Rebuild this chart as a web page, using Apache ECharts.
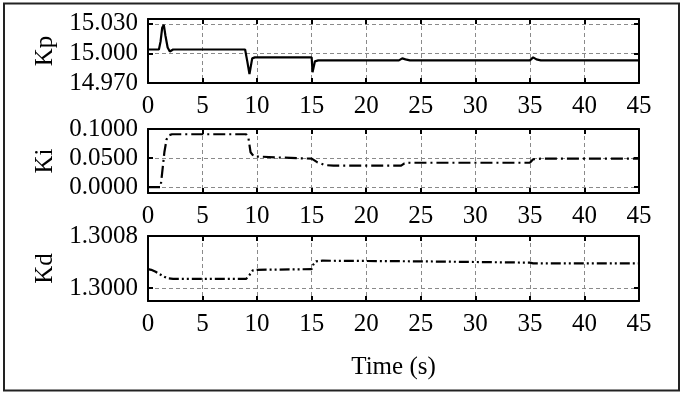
<!DOCTYPE html>
<html>
<head>
<meta charset="utf-8">
<script src="https://cdn.jsdelivr.net/npm/echarts@6/dist/echarts.min.js"></script>
<style>
html,body{margin:0;padding:0;background:#fff;}
#chart{width:684px;height:397px;}
</style>
</head>
<body>
<div id="chart"></div>
<script>
// ---- data ----
const xTicks = [0, 5, 10, 15, 20, 25, 30, 35, 40, 45];

const kpTime = [0, 1.0, 1.15, 1.3, 1.45, 1.6, 1.8, 2.0, 2.3, 8.9, 9.1, 9.3, 9.4, 9.55, 9.8, 15.0, 15.08, 15.15, 15.3, 15.6, 23.0, 23.3, 23.6, 24.0, 35.0, 35.3, 35.6, 36.0, 45];
const kpValues = [15.004, 15.004, 15.012, 15.026, 15.029, 15.018, 15.006, 15.002, 15.004, 15.004, 14.992, 14.979, 14.981, 14.995, 14.996, 14.996, 14.981, 14.983, 14.992, 14.993, 14.993, 14.995, 14.994, 14.993, 14.993, 14.996, 14.994, 14.993, 14.993];
const kpTicks = [14.970, 15.000, 15.030];

const kiTime = [0, 1.15, 1.3, 1.5, 1.7, 1.9, 2.2, 9.0, 9.2, 9.4, 9.7, 12, 15.0, 15.5, 16.2, 17, 23.2, 23.5, 24, 35.0, 35.3, 36, 45];
const kiValues = [0, 0, 0.025, 0.06, 0.082, 0.089, 0.091, 0.091, 0.085, 0.06, 0.053, 0.051, 0.049, 0.043, 0.038, 0.037, 0.037, 0.041, 0.042, 0.042, 0.048, 0.049, 0.049];
const kiTicks = [0.0, 0.05, 0.1];

const kdTime = [0, 0.3, 0.7, 1.0, 1.4, 1.8, 2.3, 9.0, 9.3, 9.6, 10, 15.0, 15.15, 15.4, 16, 25, 30, 35, 35.3, 45];
const kdValues = [1.30029, 1.30028, 1.30025, 1.30022, 1.30018, 1.30015, 1.30014, 1.30014, 1.30020, 1.30027, 1.30028, 1.30029, 1.30036, 1.30041, 1.30042, 1.30041, 1.30040, 1.30039, 1.30038, 1.30038];
const kdTicks = [1.3000, 1.3008];

// ---- chart ----
const FONT = 'Liberation Serif';
const FS = 25;
const grids = [
  {left: 148, top: 19, width: 491, height: 64},
  {left: 148, top: 129, width: 491, height: 64},
  {left: 148, top: 236, width: 491, height: 65}
];
const yConf = [
  {name: 'Kp', min: 14.970, max: 15.035, ticks: kpTicks, dec: 3},
  {name: 'Ki', min: -0.01, max: 0.1, ticks: kiTicks, dec: 4},
  {name: 'Kd', min: 1.2998, max: 1.3008, ticks: kdTicks, dec: 4}
];
const tickStyle = {show: true, inside: true, length: 5, lineStyle: {color: '#000', width: 2}};
const gridLine = {show: true, lineStyle: {color: '#8a8a8a', width: 1, type: [4, 3]}};
const xAxes = [], yAxes = [];
grids.forEach((g, i) => {
  xAxes.push({
    type: 'value', gridIndex: i, min: 0, max: 45, interval: 5, position: 'bottom',
    axisLine: {show: true, onZero: false, lineStyle: {color: '#000', width: 2}},
    axisTick: tickStyle,
    axisLabel: {show: true, margin: 11, fontFamily: FONT, fontSize: FS, color: '#000'},
    splitLine: gridLine,
    name: i === 2 ? 'Time (s)' : '', nameLocation: 'middle', nameGap: 54,
    nameTextStyle: {fontFamily: FONT, fontSize: FS, color: '#000'}
  });
  xAxes.push({
    type: 'value', gridIndex: i, min: 0, max: 45, interval: 5, position: 'top',
    axisLine: {show: true, onZero: false, lineStyle: {color: '#000', width: 2}},
    axisTick: tickStyle, axisLabel: {show: false}, splitLine: {show: false}
  });
  const c = yConf[i];
  yAxes.push({
    type: 'value', gridIndex: i, min: c.min, max: c.max, position: 'left',
    axisLine: {show: true, onZero: false, lineStyle: {color: '#000', width: 2}},
    axisTick: Object.assign({customValues: c.ticks}, tickStyle),
    axisLabel: {show: true, customValues: c.ticks, margin: 10, fontFamily: FONT, fontSize: FS, color: '#000',
      formatter: v => Number(v).toFixed(c.dec)},
    splitLine: gridLine,
    name: c.name, nameLocation: 'middle', nameGap: 86,
    nameTextStyle: {fontFamily: FONT, fontSize: FS, color: '#000'}
  });
  yAxes.push({
    type: 'value', gridIndex: i, min: c.min, max: c.max, position: 'right',
    axisLine: {show: true, onZero: false, lineStyle: {color: '#000', width: 2}},
    axisTick: Object.assign({customValues: c.ticks}, tickStyle),
    axisLabel: {show: false}, splitLine: {show: false}
  });
});
function pairs(t, v) { return t.map((x, k) => [x, v[k]]); }
const option = {
  animation: false,
  backgroundColor: '#fff',
  grid: grids.map(g => Object.assign({show: false, containLabel: false}, g)),
  xAxis: xAxes,
  yAxis: yAxes,
  graphic: [{
    type: 'rect', shape: {x: 4, y: 3.5, width: 675, height: 387},
    style: {fill: 'none', stroke: '#222', lineWidth: 2}, silent: true, z: 100
  }],
  series: [
    {type: 'line', xAxisIndex: 0, yAxisIndex: 0, data: pairs(kpTime, kpValues), showSymbol: false,
     lineStyle: {color: '#000', width: 2.2}},
    {type: 'line', xAxisIndex: 2, yAxisIndex: 2, data: pairs(kiTime, kiValues), showSymbol: false,
     lineStyle: {color: '#000', width: 2.2, type: [12, 4, 2, 4]}},
    {type: 'line', xAxisIndex: 4, yAxisIndex: 4, data: pairs(kdTime, kdValues), showSymbol: false,
     lineStyle: {color: '#000', width: 2.2, type: [10, 3, 2, 3, 2, 3]}}
  ]
};
const chart = echarts.init(document.getElementById('chart'), null, {renderer: 'canvas'});
chart.setOption(option);
</script>
</body>
</html>
